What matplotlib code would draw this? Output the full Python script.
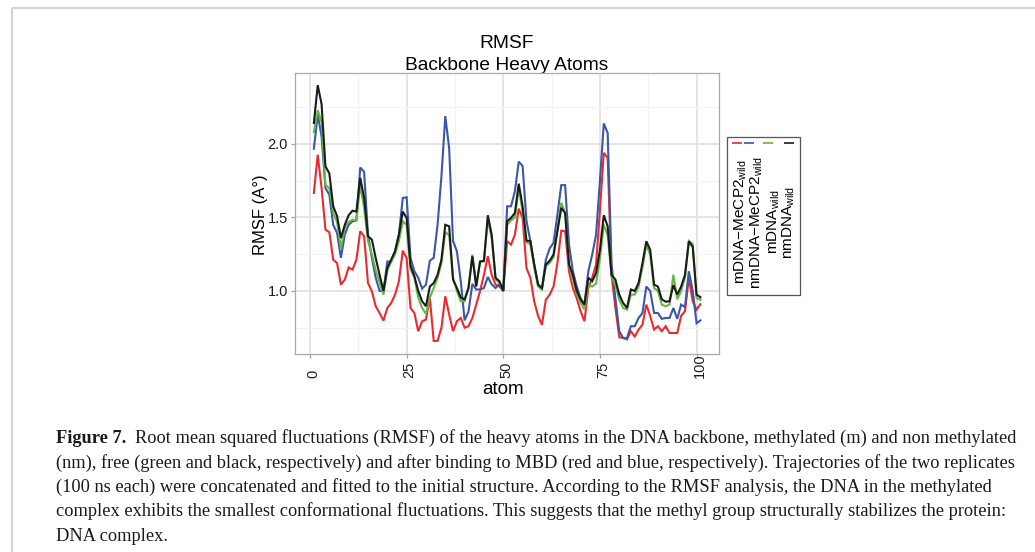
import matplotlib
matplotlib.use("Agg")
import matplotlib.pyplot as plt
from matplotlib.transforms import blended_transform_factory, offset_copy
from matplotlib.patches import Rectangle
import numpy as np

plt.rcParams['font.family'] = ['Liberation Sans', 'DejaVu Sans']
plt.rcParams['mathtext.fontset'] = 'custom'
plt.rcParams['mathtext.rm'] = 'Liberation Sans'
plt.rcParams['mathtext.it'] = 'Liberation Sans:italic'

# ---------------- data ----------------
atoms = list(range(1, 102))

red_mDNA_MeCP2 = [1.667, 1.927, 1.70, 1.417, 1.40, 1.213, 1.19, 1.043, 1.077, 1.16,
                  1.145, 1.213, 1.406, 1.372, 1.054, 0.998, 0.896, 0.85, 0.798, 0.884,
                  0.918, 0.975, 1.066, 1.274, 1.224, 0.884, 0.85, 0.726, 0.794, 0.805,
                  0.955, 0.66, 0.66, 0.75, 0.964, 0.84, 0.726, 0.794, 0.816, 0.75,
                  0.76, 0.816, 0.907, 1.0, 1.11, 1.236, 1.11, 1.043, 1.03, 1.0,
                  1.34, 1.315, 1.383, 1.56, 1.497, 1.156, 1.09, 0.93, 0.83, 0.77,
                  0.94, 0.975, 1.03, 1.19, 1.41, 1.406, 1.134, 1.02, 0.95, 0.862,
                  0.794, 1.02, 1.09, 1.18, 1.55, 1.94, 1.905, 1.11, 0.884, 0.685,
                  0.68, 0.67, 0.726, 0.69, 0.737, 0.77, 0.907, 0.83, 0.737, 0.76,
                  0.726, 0.76, 0.714, 0.714, 0.714, 0.83, 0.862, 1.09, 0.93, 0.873,
                  0.91]

blue_nmDNA_MeCP2 = [1.968, 2.20, 2.05, 1.70, 1.655, 1.45, 1.395, 1.225, 1.383, 1.45,
                    1.474, 1.48, 1.84, 1.81, 1.383, 1.225, 1.09, 1.0, 1.0, 1.20,
                    1.20, 1.27, 1.383, 1.633, 1.637, 1.225, 1.134, 1.09, 1.016, 1.043,
                    1.206, 1.225, 1.45, 1.78, 2.19, 1.97, 1.34, 1.27, 1.066, 0.80,
                    0.86, 1.048, 1.01, 1.01, 1.02, 1.095, 1.045, 1.02, 1.048, 1.0,
                    1.576, 1.576, 1.678, 1.88, 1.85, 1.476, 1.34, 1.18, 1.043, 1.01,
                    1.213, 1.29, 1.327, 1.52, 1.72, 1.72, 1.315, 1.134, 1.03, 0.95,
                    0.907, 1.134, 1.247, 1.383, 1.75, 2.14, 2.075, 1.18, 0.95, 0.726,
                    0.68, 0.68, 0.76, 0.76, 0.816, 0.85, 1.03, 1.0, 0.85, 0.85,
                    0.81, 0.816, 0.816, 0.884, 0.81, 0.907, 0.89, 1.134, 1.0, 0.78,
                    0.80]

green_mDNA = [2.08, 2.23, 2.15, 1.72, 1.70, 1.53, 1.47, 1.29, 1.43, 1.47,
              1.485, 1.48, 1.72, 1.565, 1.34, 1.25, 1.14, 1.06, 0.975, 1.14,
              1.20, 1.25, 1.34, 1.474, 1.45, 1.15, 1.09, 0.955, 0.884, 0.844,
              0.955, 1.02, 1.09, 1.19, 1.40, 1.38, 1.09, 1.0, 0.93, 0.93,
              1.02, 1.247, 1.04, 1.20, 1.20, 1.486, 1.36, 1.08, 1.055, 1.0,
              1.45, 1.48, 1.50, 1.70, 1.54, 1.33, 1.32, 1.16, 1.03, 1.01,
              1.17, 1.19, 1.23, 1.42, 1.60, 1.53, 1.17, 1.09, 0.977, 0.92,
              0.875, 1.04, 1.03, 1.05, 1.22, 1.45, 1.38, 1.10, 1.04, 0.94,
              0.884, 0.873, 0.975, 0.975, 1.03, 1.16, 1.315, 1.247, 1.02, 1.0,
              0.907, 0.896, 0.907, 1.11, 0.943, 1.0, 1.09, 1.34, 1.32, 0.95,
              0.94]

black_nmDNA = [2.143, 2.40, 2.27, 1.848, 1.80, 1.576, 1.51, 1.36, 1.45, 1.515,
               1.546, 1.54, 1.77, 1.633, 1.372, 1.35, 1.224, 1.11, 1.0, 1.156,
               1.213, 1.27, 1.383, 1.54, 1.497, 1.17, 1.10, 1.0, 0.93, 0.896,
               1.03, 1.054, 1.11, 1.213, 1.45, 1.44, 1.077, 1.02, 0.955, 0.943,
               1.02, 1.236, 1.03, 1.20, 1.206, 1.515, 1.383, 1.09, 1.066, 1.0,
               1.474, 1.497, 1.53, 1.73, 1.576, 1.342, 1.34, 1.18, 1.043, 1.02,
               1.18, 1.206, 1.247, 1.406, 1.565, 1.53, 1.18, 1.11, 1.0, 0.943,
               0.907, 1.09, 1.066, 1.122, 1.28, 1.515, 1.44, 1.11, 1.077, 0.975,
               0.918, 0.884, 1.01, 1.0, 1.054, 1.19, 1.338, 1.28, 1.043, 1.03,
               0.943, 0.927, 0.93, 1.04, 0.975, 1.03, 1.11, 1.338, 1.30, 0.975,
               0.957]

series_values = [red_mDNA_MeCP2, blue_nmDNA_MeCP2, green_mDNA, black_nmDNA]
series_labels = [r'mDNA−MeCP2$_{\mathrm{wild}}$', r'nmDNA−MeCP2$_{\mathrm{wild}}$',
                 r'mDNA$_{\mathrm{wild}}$', r'nmDNA$_{\mathrm{wild}}$']
series_colors = ['#ec2a2e', '#3c56a8', '#62b840', '#1b1b1b']

x_ticks = [0, 25, 50, 75, 100]
x_tick_labels = ['0', '25', '50', '75', '100']
y_ticks = [1.0, 1.5, 2.0]
y_tick_labels = ['1.0', '1.5', '2.0']

title_lines = ['RMSF', 'Backbone Heavy Atoms']
x_label = 'atom'
y_label = 'RMSF (A°)'

caption_bold = 'Figure 7.'
caption_lines = [
    'Root mean squared fluctuations (RMSF) of the heavy atoms in the DNA backbone, methylated (m) and non methylated',
    '(nm), free (green and black, respectively) and after binding to MBD (red and blue, respectively). Trajectories of the two replicates',
    '(100 ns each) were concatenated and fitted to the initial structure. According to the RMSF analysis, the DNA in the methylated',
    'complex exhibits the smallest conformational fluctuations. This suggests that the methyl group structurally stabilizes the protein:',
    'DNA complex.',
]

# ---------------- figure ----------------
W, H = 1035, 552
fig = plt.figure(figsize=(W / 100, H / 100), dpi=100)
fig.patch.set_facecolor('white')

# overlay in pixel coordinates (for frame, legend box, caption)
ov = fig.add_axes([0, 0, 1, 1], zorder=0)
ov.set_xlim(0, W)
ov.set_ylim(H, 0)
ov.axis('off')
ov.patch.set_alpha(0)

# page frame
ov.plot([12, W], [7.5, 7.5], color='#d4d4d4', lw=1.6, solid_capstyle='butt')
ov.plot([12, 12], [7.5, H], color='#d4d4d4', lw=1.6, solid_capstyle='butt')

# main axes
pl, pr, pt, pb = 295, 719, 73, 354
ax = fig.add_axes([pl / W, 1 - pb / H, (pr - pl) / W, (pb - pt) / H], zorder=2)
ax.set_facecolor('white')

for vals, col in zip(series_values, series_colors):
    ax.plot(atoms, vals, color=col, lw=1.5, solid_joinstyle='miter', zorder=3)

ax.set_xlim(-3.88, 105.8)
ax.set_ylim(0.571, 2.483)
ax.set_xticks(x_ticks)
ax.set_xticklabels([])
ax.set_yticks(y_ticks)
ax.set_yticklabels(y_tick_labels, fontsize=10.5, color='#1e1e1e')
ax.set_xticks([12.5, 37.5, 62.5, 87.5], minor=True)
ax.set_yticks([0.75, 1.25, 1.75, 2.25], minor=True)
ax.grid(True, which='major', color='#e3e3e3', lw=1.3, zorder=0)
ax.grid(True, which='minor', color='#f3f3f3', lw=0.9, zorder=0)
ax.set_axisbelow(True)
for s in ax.spines.values():
    s.set_color('#a9a9a9')
    s.set_linewidth(0.9)
ax.tick_params(which='major', length=3, width=0.9, color='#a0a0a0', pad=2)
ax.tick_params(which='minor', length=0)

# x tick labels rotated, bottom-aligned
tr = blended_transform_factory(ax.transData, ax.transAxes)
for xv, lbl in zip(x_ticks, x_tick_labels):
    t = offset_copy(tr, fig=fig, x=3.0, y=-23.5, units='dots')
    ax.text(xv, 0, lbl, transform=t, rotation=90, rotation_mode='anchor',
            ha='left', va='center', fontsize=10.5, color='#1e1e1e')

# titles and axis labels (pixel coords)
ov.text(507, 48, title_lines[0], ha='center', va='baseline', fontsize=13.8, color='black')
ov.text(507, 70, title_lines[1], ha='center', va='baseline', fontsize=13.8, color='black')
ov.text(503, 390, x_label, ha='center', va='center', fontsize=13.5, color='black')
ov.text(261, 215, y_label, ha='center', va='center', rotation=90, fontsize=12, color='black')

# legend (vertical, rotated labels)
ov.add_patch(Rectangle((727, 137), 73, 158, fill=False, edgecolor='#555555', lw=0.9))
key_x = [737, 749, 768, 789]
lab_x = [741, 757, 774, 789]
for kx, lx, col, lbl in zip(key_x, lab_x, series_colors, series_labels):
    ov.plot([kx - 5, kx + 5], [142.5, 142.5], color=col, lw=1.2, solid_capstyle='butt')
    ov.text(lx, 222, lbl, rotation=90, ha='center', va='center', fontsize=11,
            color='black')

# caption
cap_left = 56
cap_base = [443, 467.5, 492, 516.5, 541]
cap_fs = 12.0
renderer = fig.canvas.get_renderer()
probe = ov.text(cap_left, cap_base[1], caption_lines[1], fontsize=cap_fs,
                family='Liberation Serif', va='baseline')
bb = probe.get_window_extent(renderer)
cap_fs = cap_fs * (1010 - cap_left) / bb.width
probe.remove()

tb = ov.text(cap_left, cap_base[0], caption_bold, fontsize=cap_fs, family='Liberation Serif',
             fontweight='bold', va='baseline', color='#1a1a1a')
bbw = tb.get_window_extent(renderer).width
ov.text(cap_left + bbw + 9, cap_base[0], caption_lines[0], fontsize=cap_fs,
        family='Liberation Serif', va='baseline', color='#1a1a1a')
for yb, line in zip(cap_base[1:], caption_lines[1:]):
    ov.text(cap_left, yb, line, fontsize=cap_fs, family='Liberation Serif',
            va='baseline', color='#1a1a1a')

fig.savefig('out.png', dpi=100, facecolor='white')
